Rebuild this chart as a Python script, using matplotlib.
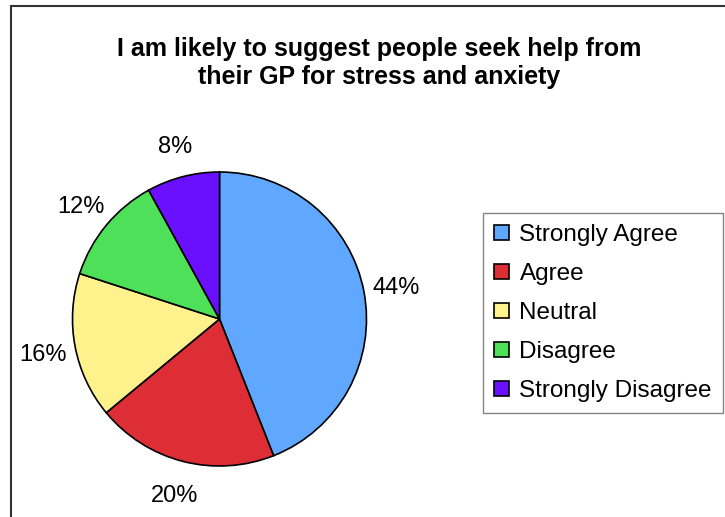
import matplotlib
matplotlib.use("Agg")
import matplotlib.pyplot as plt
from matplotlib.patches import Patch, Rectangle

categories = ["Strongly Agree", "Agree", "Neutral", "Disagree", "Strongly Disagree"]
shares = [44, 20, 16, 12, 8]
colors = ["#60a8ff", "#dd2e35", "#fff28c", "#4fe05a", "#6a10ff"]
title = "I am likely to suggest people seek help from\ntheir GP for stress and anxiety"

plt.rcParams["font.family"] = ["Liberation Sans", "DejaVu Sans"]

W, H = 725, 517
fig = plt.figure(figsize=(W / 100, H / 100), dpi=100)

# outer chart border (right and bottom edges fall outside the image)
fig.patches.append(Rectangle((10.5 / W, -0.1), 1.0, 1.1 - 6 / H, transform=fig.transFigure,
                             fill=False, edgecolor="#333333", linewidth=1.5))

fig.text(379 / W, 1 - 63 / H, title, ha="center", va="center", fontsize=18,
         fontweight="bold", linespacing=1.25)

cx, cy, r = 219.5, 319, 147
ax = fig.add_axes([(cx - r) / W, (H - cy - r) / H, 2 * r / W, 2 * r / H])
ax.pie(shares, colors=colors, startangle=90, counterclock=False, radius=1,
       autopct="%1.0f%%", pctdistance=1.225,
       wedgeprops=dict(edgecolor="black", linewidth=1.2),
       textprops=dict(fontsize=17, color="black", va="center_baseline"))
ax.set_xlim(-1, 1)
ax.set_ylim(-1, 1)
ax.axis("off")

handles = [Patch(facecolor=c, edgecolor="black", linewidth=1.2) for c in colors]
leg = fig.legend(handles, categories, loc="upper left",
                 bbox_to_anchor=(483 / W, 1 - 213 / H), fontsize=17.5,
                 handlelength=0.6, handleheight=0.55, handletextpad=0.45,
                 labelspacing=0.7, borderpad=0.45, borderaxespad=0,
                 fancybox=False, frameon=True)
leg.get_frame().set_edgecolor("#666666")
leg.get_frame().set_linewidth(1.0)

fig.savefig("out.png", dpi=100)
